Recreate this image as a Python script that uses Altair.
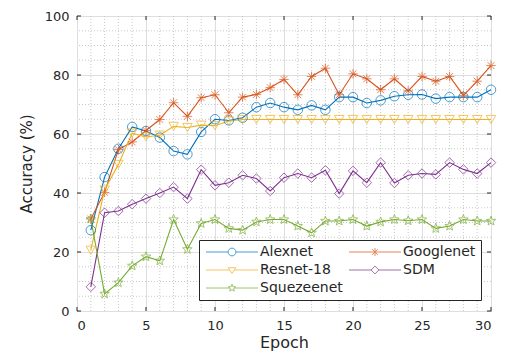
import math
import altair as alt
import pandas as pd

# ---------------- data ----------------
epochs = list(range(1, 31))
alexnet = [27.4, 45.4, 55.0, 62.4, 61.0, 58.8, 54.2, 53.1, 60.7, 65.0,
           64.6, 65.5, 69.1, 70.5, 69.1, 68.2, 69.7, 68.2, 72.5, 72.5,
           70.5, 71.4, 72.8, 73.3, 73.4, 72.0, 72.5, 72.5, 72.5, 75.0]
googlenet = [31.2, 40.2, 54.7, 57.3, 61.2, 64.9, 70.6, 66.0, 72.3, 73.3,
             67.2, 72.5, 73.4, 75.7, 78.5, 73.3, 79.5, 82.3, 73.3, 80.4,
             78.7, 75.0, 78.7, 74.6, 79.5, 77.9, 79.5, 73.1, 77.9, 83.2]
resnet18 = [20.6, 41.0, 49.7, 60.3, 59.0, 59.6, 62.6, 62.2, 63.0, 62.8,
            64.4, 64.9, 64.9, 64.9, 64.9, 64.9, 64.9, 64.9, 64.9, 64.9,
            64.9, 64.9, 64.9, 64.9, 64.9, 64.9, 64.9, 64.9, 64.9, 64.9]
sdm = [8.2, 33.3, 33.9, 36.2, 38.1, 40.0, 42.0, 38.1, 47.9, 42.6,
       43.5, 46.0, 44.9, 40.7, 45.2, 46.6, 45.2, 47.7, 39.8, 47.5,
       43.5, 50.3, 43.4, 46.0, 46.6, 46.3, 50.3, 48.0, 46.6, 50.3]
squezeenet = [31.2, 5.8, 9.6, 15.3, 18.4, 17.0, 31.0, 20.9, 29.7, 31.0,
              28.0, 27.4, 30.2, 31.0, 31.0, 28.8, 26.5, 30.5, 30.5, 31.0,
              28.8, 30.2, 31.0, 30.6, 31.0, 28.0, 28.8, 31.0, 30.5, 30.5]

series_names = ["Alexnet", "Googlenet", "Resnet-18", "SDM", "Squezeenet"]
series_colors = ["#0072BD", "#D95319", "#EDB120", "#7E2F8E", "#77AC30"]

x_major = [0, 5, 10, 15, 20, 25, 30]
y_major = [0, 20, 40, 60, 80, 100]
x_minor = [i for i in range(0, 31) if i % 5]
y_minor = [v for v in range(0, 101, 5) if v % 20]

rows = []
for name, vals in zip(series_names, [alexnet, googlenet, resnet18, sdm, squezeenet]):
    for e, v in zip(epochs, vals):
        rows.append({"epoch": e, "acc": v, "series": name})
df = pd.DataFrame(rows)


# ---------------- marker shapes ----------------
def fmt(v):
    return f"{v:.3f}"


def star_path(cx, R):
    pts = []
    for k in range(10):
        ang = -math.pi / 2 + k * math.pi / 5
        rr = R if k % 2 == 0 else R * 0.42
        pts.append((cx + rr * math.cos(ang), rr * math.sin(ang)))
    return "M" + "L".join(f"{fmt(x)},{fmt(y)}" for x, y in pts) + "Z"


asterisk = "M0,-1L0,1M-1,0L1,0M-0.72,-0.72L0.72,0.72M-0.72,0.72L0.72,-0.72"
point_shapes = ["circle", asterisk, "triangle-down", "diamond", star_path(0, 1.05)]

# legend symbols: line with marker in the middle (unit = sqrt(size)/2 px)
L0, L1, M, R = -1.0, 9.4, 4.2, 0.78


def seg(a, b):
    return f"M{fmt(a)},0L{fmt(b)},0"


leg_circle = (seg(L0, M - R) + seg(M + R, L1) +
              f"M{fmt(M - R)},0A{R},{R} 0 1,0 {fmt(M + R)},0A{R},{R} 0 1,0 {fmt(M - R)},0")
d = 0.72 * R
leg_ast = (seg(L0, L1) + f"M{fmt(M)},{fmt(-R)}L{fmt(M)},{fmt(R)}" +
           f"M{fmt(M - d)},{fmt(-d)}L{fmt(M + d)},{fmt(d)}" +
           f"M{fmt(M - d)},{fmt(d)}L{fmt(M + d)},{fmt(-d)}")
leg_tri = (seg(L0, M - 0.6 * R) + seg(M + 0.6 * R, L1) +
           f"M{fmt(M - R)},{fmt(-0.6 * R)}L{fmt(M + R)},{fmt(-0.6 * R)}L{fmt(M)},{fmt(0.9 * R)}Z")
leg_dia = (seg(L0, M - R) + seg(M + R, L1) +
           f"M{fmt(M - R)},0L{fmt(M)},{fmt(-R)}L{fmt(M + R)},0L{fmt(M)},{fmt(R)}Z")
leg_star = seg(L0, M - 0.55 * R) + seg(M + 0.55 * R, L1) + star_path(M, R)
legend_shapes = [leg_circle, leg_ast, leg_tri, leg_dia, leg_star]

# ---------------- chart ----------------
TXT = "#262626"
FONT = "DejaVu Sans"
W, H = 414, 295

xscale = alt.Scale(domain=[0, 30], nice=False)
yscale = alt.Scale(domain=[0, 100], nice=False)
cscale = alt.Scale(domain=series_names, range=series_colors)

x_axis = alt.Axis(values=x_major, title="Epoch", titleFontSize=16,
                  labelPadding=8, titlePadding=2)
y_axis = alt.Axis(values=y_major, title="Accuracy (%)", titleFontSize=15,
                  labelPadding=8, titlePadding=10)
x_enc = alt.X("epoch:Q", scale=xscale, axis=x_axis)
y_enc = alt.Y("acc:Q", scale=yscale, axis=y_axis)

minor_x = alt.Chart(pd.DataFrame({"v": x_minor})).mark_rule(
    color="#c8c8c8", strokeDash=[1, 2], strokeWidth=1).encode(
    x=alt.X("v:Q", scale=xscale, axis=x_axis))
minor_y = alt.Chart(pd.DataFrame({"v": y_minor})).mark_rule(
    color="#c8c8c8", strokeDash=[1, 2], strokeWidth=1).encode(
    y=alt.Y("v:Q", scale=yscale, axis=y_axis))

xt = pd.DataFrame({"v": x_major})
yt = pd.DataFrame({"v": y_major})
tick_b = alt.Chart(xt).mark_rule(color=TXT).encode(
    x=alt.X("v:Q", scale=xscale, axis=x_axis), y=alt.value(H), y2=alt.value(H - 4))
tick_t = alt.Chart(xt).mark_rule(color=TXT).encode(
    x=alt.X("v:Q", scale=xscale, axis=x_axis), y=alt.value(0), y2=alt.value(4))
tick_l = alt.Chart(yt).mark_rule(color=TXT).encode(
    y=alt.Y("v:Q", scale=yscale, axis=y_axis), x=alt.value(0), x2=alt.value(4))
tick_r = alt.Chart(yt).mark_rule(color=TXT).encode(
    y=alt.Y("v:Q", scale=yscale, axis=y_axis), x=alt.value(W), x2=alt.value(W - 4))

base = alt.Chart(df)
lines = base.mark_line(strokeWidth=1.1).encode(
    x=x_enc, y=y_enc,
    color=alt.Color("series:N", scale=cscale, legend=None))
points = base.mark_point(filled=False, size=90, strokeWidth=1).encode(
    x=x_enc, y=y_enc,
    color=alt.Color("series:N", scale=cscale, legend=None),
    shape=alt.Shape("series:N", scale=alt.Scale(domain=series_names, range=point_shapes),
                    legend=None))

leg = alt.Legend(orient="none", legendX=122, legendY=224, columns=2, direction="horizontal",
                 title=None,
                 symbolSize=100, symbolStrokeWidth=1, symbolFillColor="transparent",
                 labelOffset=42, labelFontSize=14, labelFont=FONT, labelColor=TXT,
                 strokeColor=TXT, fillColor="white", padding=5, rowPadding=4,
                 columnPadding=4, labelLimit=200)
legend_layer = base.transform_filter("false").mark_point(filled=False).encode(
    x=x_enc, y=y_enc,
    shape=alt.Shape("series:N", scale=alt.Scale(domain=series_names, range=legend_shapes),
                    legend=leg),
    stroke=alt.Stroke("series:N", scale=alt.Scale(domain=series_names, range=series_colors),
                      legend=leg))

chart = alt.layer(
    minor_x, minor_y, tick_b, tick_t, tick_l, tick_r, lines, points, legend_layer
).resolve_scale(shape="independent", stroke="independent").properties(
    width=W, height=H,
    autosize=alt.AutoSizeParams(type="none"),
    padding={"left": 69, "top": 8, "right": 7, "bottom": 44},
    background="white",
).configure_view(stroke=TXT, strokeWidth=1).configure_axis(
    grid=True, gridColor="#dedede", gridWidth=1, domain=False, ticks=False,
    labelFont=FONT, labelFontSize=13, labelColor=TXT,
    titleFont=FONT, titleColor=TXT, titleFontWeight="normal",
)

chart.save("out.html", embed_options={"renderer": "svg", "actions": False})
